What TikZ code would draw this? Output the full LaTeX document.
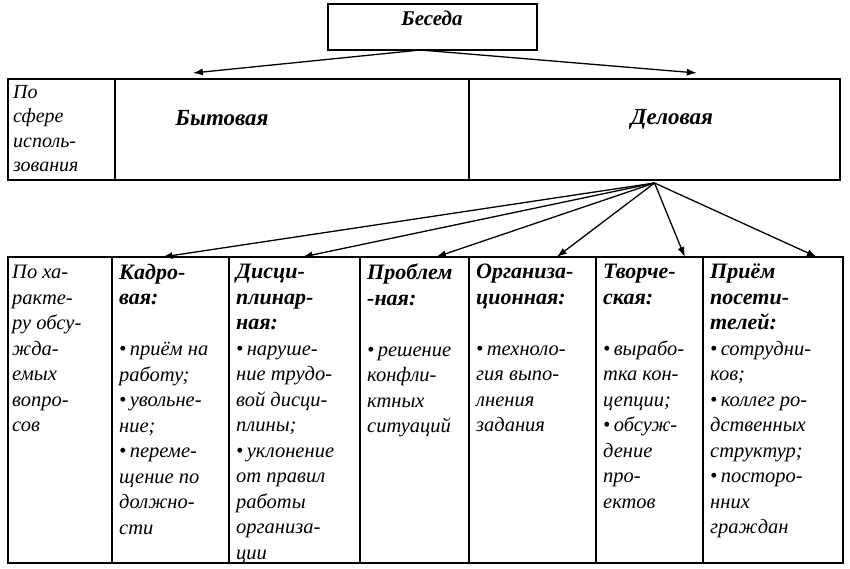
\documentclass[tikz,border=0pt]{standalone}
\usepackage{fontspec}
\setmainfont{Liberation Serif}
\usetikzlibrary{positioning,arrows.meta}

\tikzset{
  cell/.style={draw, line width=1.3pt, rectangle, inner sep=0pt, outer sep=0pt},
  txt/.style={inner sep=0pt, align=left, anchor=north west, font=\fontsize{20.5}{25.5}\selectfont\itshape},
  hdr/.style={font=\fontsize{23}{26}\selectfont\bfseries\itshape},
  arr/.style={-{Latex[length=10pt,width=7pt]}, line width=1.3pt},
}
\newcommand{\hd}[1]{{\fontsize{22}{25.5}\selectfont\bfseries #1}}

\begin{document}
\begin{tikzpicture}[x=1pt, y=-1pt]
\useasboundingbox (0,0) rectangle (850,569);
% top
\node[cell, minimum width=209, minimum height=46, anchor=north west] (beseda) at (328,4) {};
\node[hdr, font=\fontsize{21}{24}\selectfont\bfseries\itshape] (besedat) at (432,18) {Беседа};
% first row
\node[cell, minimum width=107, minimum height=101, anchor=north west] (sfera) at (8,79) {};
\node[cell, minimum width=354, minimum height=101, right=0pt of sfera] (byt) {};
\node[cell, minimum width=371, minimum height=101, right=0pt of byt] (delo) {};
\node[txt, font=\fontsize{20}{24.5}\selectfont\itshape, below right=6pt and 5pt of sfera.north west] (sferat) {По\\сфере\\исполь-\\зования};
\node[hdr] (bytt) at (222,118) {Бытовая};
\node[hdr] (delot) at (672,119) {Деловая};
% second row
\node[cell, minimum width=104, minimum height=306, anchor=north west] (harakt) at (8,257) {};
\node[cell, minimum width=117, minimum height=306, right=0pt of harakt] (kadr) {};
\node[cell, minimum width=131, minimum height=306, right=0pt of kadr] (disc) {};
\node[cell, minimum width=109, minimum height=306, right=0pt of disc] (probl) {};
\node[cell, minimum width=127, minimum height=306, right=0pt of probl] (org) {};
\node[cell, minimum width=107, minimum height=306, right=0pt of org] (tvor) {};
\node[cell, minimum width=140, minimum height=306, right=0pt of tvor] (priem) {};

\node[txt, below right=8pt and 4pt of harakt.north west] (haraktt) {По ха-\\ракте-\\ру обсу-\\жда-\\емых\\вопро-\\сов};
\node[txt, below right=7pt and 7pt of kadr.north west] (kadrt) {\hd{Кадро-}\\\hd{вая:}\\[25.5pt]•\,приём на\\работу;\\•\,увольне-\\ние;\\•\,переме-\\щение по\\должно-\\сти};
\node[txt, below right=7pt and 7pt of disc.north west] (disct) {\hd{Дисци-}\\\hd{плинар-}\\\hd{ная:}\\•\,наруше-\\ние трудо-\\вой дисци-\\плины;\\•\,уклонение\\от правил\\работы\\организа-\\ции};
\node[txt, below right=7pt and 7pt of probl.north west] (problt) {\hd{Проблем}\\\hd{-ная:}\\[25.5pt]•\,решение\\конфли-\\ктных\\ситуаций};
\node[txt, below right=7pt and 7pt of org.north west] (orgt) {\hd{Организа-}\\\hd{ционная:}\\[25.5pt]•\,техноло-\\гия выпо-\\лнения\\задания};
\node[txt, below right=7pt and 7pt of tvor.north west] (tvort) {\hd{Творче-}\\\hd{ская:}\\[25.5pt]•\,вырабо-\\тка кон-\\цепции;\\•\,обсуж-\\дение\\про-\\ектов};
\node[txt, below right=7pt and 7pt of priem.north west] (priemt) {\hd{Приём}\\\hd{посети-}\\\hd{телей:}\\•\,сотрудни-\\ков;\\•\,коллег ро-\\дственных\\структур;\\•\,посторо-\\нних\\граждан};

% arrows
\coordinate (hub) at ([yshift=-3pt]delo.south);
\coordinate (root) at ([xshift=-12pt]beseda.south);
\draw[arr] (root) -- ([yshift=6pt]byt.153);
\draw[arr] (root) -- ([yshift=6pt]delo.50);
\draw[arr] (hub) -- (kadr.93);
\draw[arr] (hub) -- (disc.87);
\draw[arr] (hub) -- (probl.82);
\draw[arr] (hub) -- (org.81);
\draw[arr] (hub) -- (tvor.77);
\draw[arr] (hub) -- (priem.74);
\end{tikzpicture}
\end{document}
